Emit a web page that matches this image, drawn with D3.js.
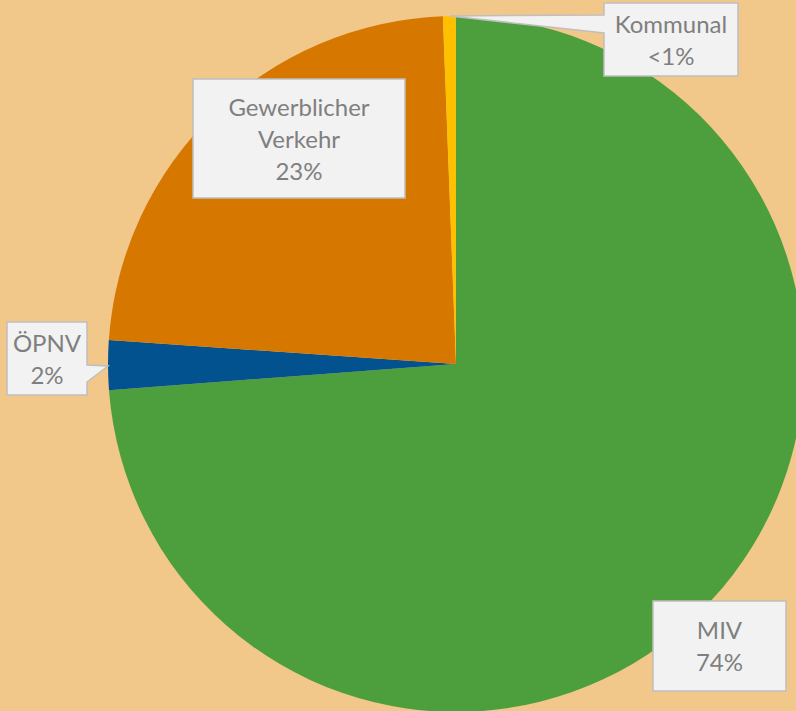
<!DOCTYPE html>
<html>
<head>
<meta charset="utf-8">
<script src="https://cdn.jsdelivr.net/npm/d3@7"></script>
<style>
  body { margin: 0; background: #F1C78A; overflow: hidden; }
  svg { display: block; }
</style>
</head>
<body>
<script>
// DATA
var categories = ["MIV", "ÖPNV", "Gewerblicher Verkehr", "Kommunal"];
var shares = [73.8, 2.3, 23.3, 0.6];
var labelLines = [["MIV", "74%"], ["ÖPNV", "2%"], ["Gewerblicher", "Verkehr", "23%"], ["Kommunal", "<1%"]];
var colors = ["#4C9F3C", "#02528F", "#D67800", "#FFC000"];

// LAYOUT
var width = 796, height = 711;
var cx = 456, cy = 364, radius = 348;

// label boxes: x, y, w, h and optional callout wedge (tip + base on box edge)
var boxes = [
    {x: 653, y: 601, w: 133, h: 90},
    {x: 7, y: 322, w: 80, h: 73, wedge: {tip: [108, 366], side: "right", y0: 365, y1: 382}},
    {x: 193, y: 79, w: 212, h: 119},
    {x: 604, y: 3, w: 134, h: 73, wedge: {tip: [450, 16], side: "left", y0: 15, y1: 33}}
];

var svg = d3.select("body").append("svg")
    .attr("width", width)
    .attr("height", height);

var data = categories.map((c, i) => ({name: c, value: shares[i], lines: labelLines[i], color: colors[i], box: boxes[i]}));

var pie = d3.pie().sort(null).value(d => d.value);
var arc = d3.arc().innerRadius(0).outerRadius(radius);

var g = svg.append("g").attr("transform", `translate(${cx}, ${cy})`);
g.selectAll("path")
    .data(pie(data))
    .enter()
    .append("path")
    .attr("d", arc)
    .attr("fill", d => d.data.color);

// LABEL CALLOUTS
var labels = svg.selectAll("g.label")
    .data(data)
    .enter()
    .append("g")
    .attr("class", "label");

labels.each(function(d) {
    var b = d.box;
    var sel = d3.select(this);
    var pts = [[b.x, b.y], [b.x + b.w, b.y]];
    if (b.wedge && b.wedge.side === "right") {
        pts.push([b.x + b.w, b.wedge.y0], b.wedge.tip, [b.x + b.w, b.wedge.y1]);
    }
    pts.push([b.x + b.w, b.y + b.h], [b.x, b.y + b.h]);
    if (b.wedge && b.wedge.side === "left") {
        pts.push([b.x, b.wedge.y1], b.wedge.tip, [b.x, b.wedge.y0]);
    }
    sel.append("path")
        .attr("d", "M" + pts.map(p => p.join(",")).join("L") + "Z")
        .attr("fill", "#F2F2F2")
        .attr("stroke", "#BFBFBF")
        .attr("stroke-width", 1.5);

    var lineH = 32;
    var n = d.lines.length;
    var top = b.y + b.h / 2 - (n * lineH) / 2;
    sel.append("text")
        .attr("text-anchor", "middle")
        .attr("font-family", "Lato, 'Open Sans', sans-serif")
        .attr("font-size", 24)
        .attr("fill", "#7F7F7F")
        .selectAll("tspan")
        .data(d.lines)
        .enter()
        .append("tspan")
        .attr("x", b.x + b.w / 2)
        .attr("y", (t, i) => top + i * lineH + 25)
        .text(t => t);
});
</script>
</body>
</html>
